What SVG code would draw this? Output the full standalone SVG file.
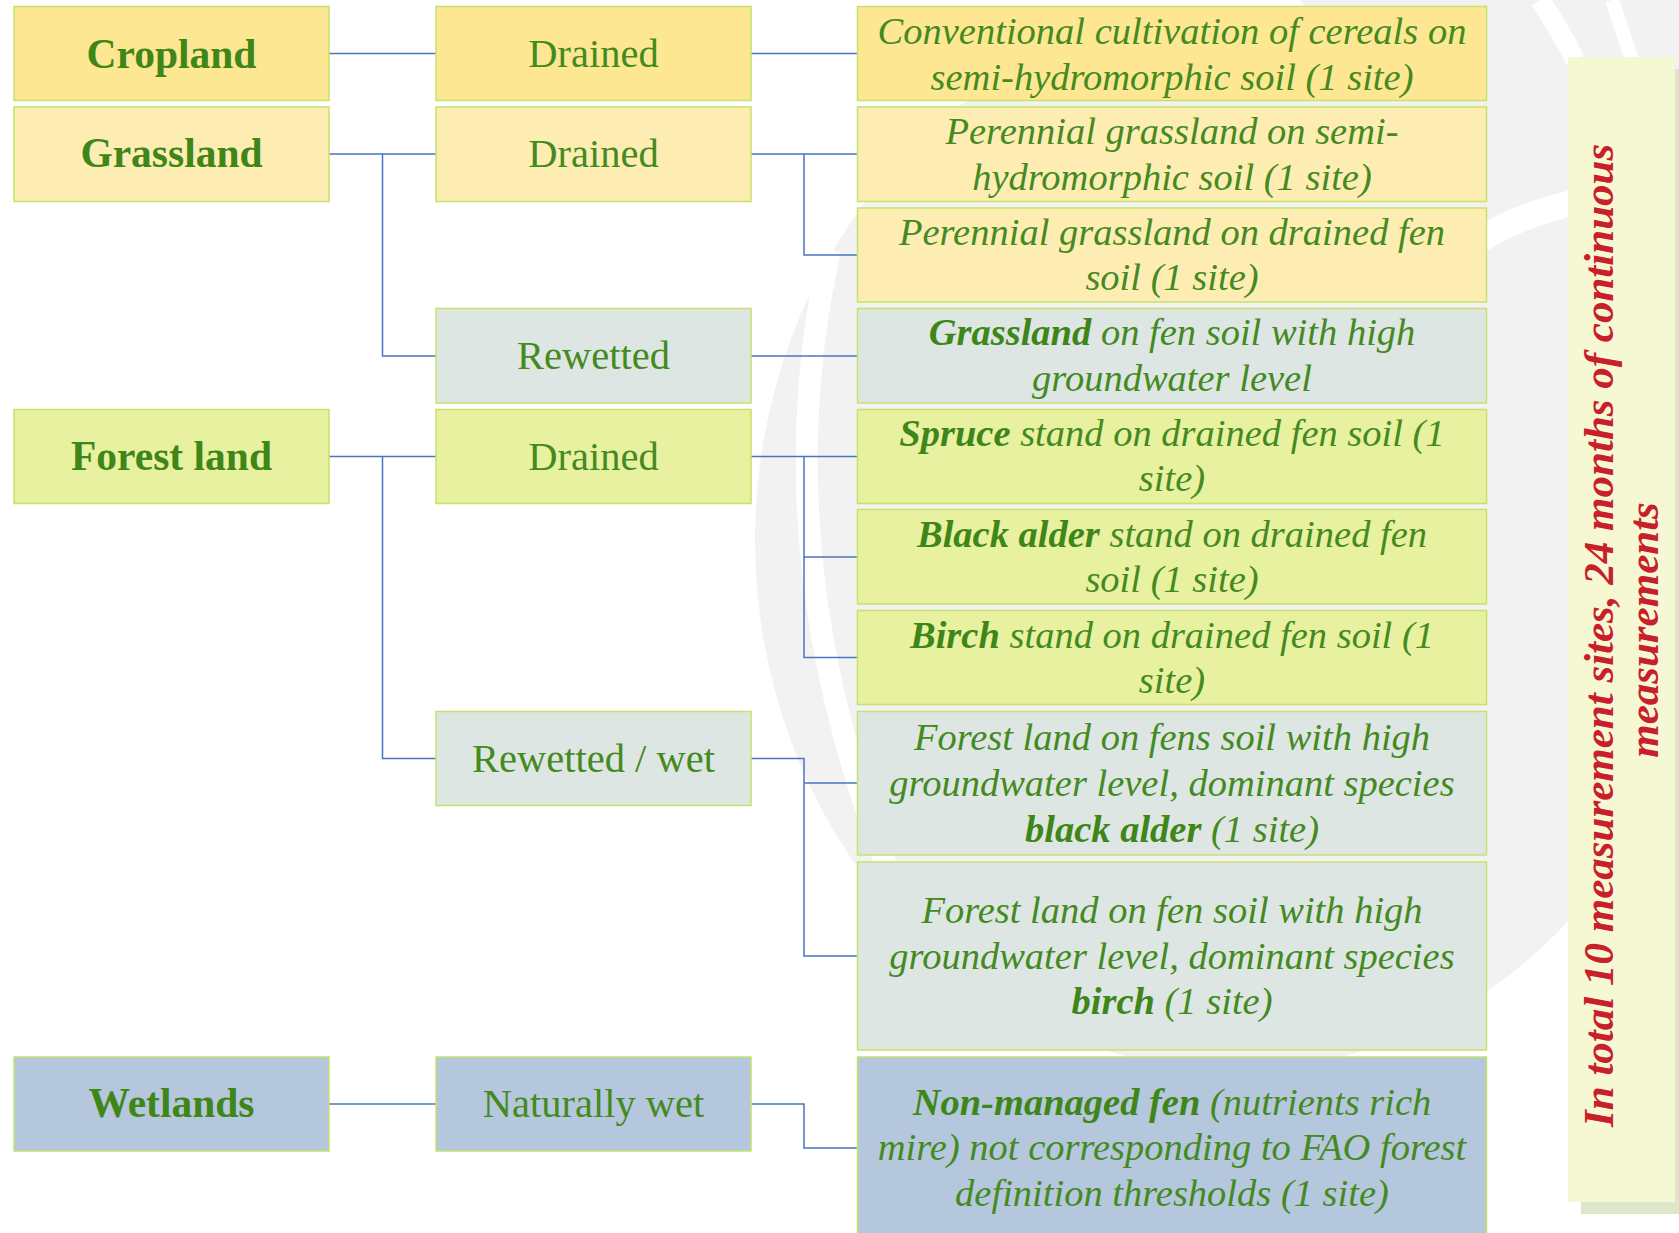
<svg xmlns="http://www.w3.org/2000/svg" width="1679" height="1233" viewBox="0 0 1679 1233">
  <style>
    .box { stroke: #c6e26b; stroke-width: 1.5; }
    .crop { fill: #fee793; }
    .grass { fill: #fdedb3; }
    .rewet { fill: #dee6e4; }
    .forest { fill: #e8f1a0; }
    .wet { fill: #b5c7dd; }
    .t { fill: #448a1f; text-anchor: middle; }
    .cat { font-family: "Liberation Serif", "DejaVu Serif", serif; font-weight: bold; font-size: 41.5px; fill: #3f8619; }
    .state { font-family: "Liberation Serif", "DejaVu Serif", serif; font-size: 40.5px; }
    .desc { font-family: "Liberation Serif", "DejaVu Serif", serif; font-style: italic; font-size: 38.5px; }
    .b { font-weight: bold; fill: #3f8619; }
    .conn { fill: none; stroke: #4a76bd; stroke-width: 1.5; }
    .note { font-family: "Liberation Serif", "DejaVu Serif", serif; font-style: italic; font-weight: bold; font-size: 43px; fill: #c8202a; text-anchor: middle; }
  </style>

  <rect width="1679" height="1233" fill="#ffffff"/>

  <!-- faint watermark logo in the background -->
  <g id="watermark">
    <ellipse cx="1235" cy="540" rx="480" ry="530" fill="#f2f2f2"/>
    <path d="M 1300 0 H 1679 V 300 L 1480 300 Z" fill="#f2f2f2"/>
    <path d="M 830 250 Q 760 560 900 900" fill="none" stroke="#ffffff" stroke-width="22"/>
    <path d="M 1480 240 Q 1540 200 1679 185" fill="none" stroke="#ffffff" stroke-width="26"/>
    <path d="M 1540 0 Q 1560 30 1575 60" fill="none" stroke="#ffffff" stroke-width="20"/>
    <path d="M 1612 0 Q 1622 30 1632 60" fill="none" stroke="#ffffff" stroke-width="14"/>
  </g>

  <!-- connectors -->
  <g id="connectors">
    <path class="conn" d="M 329 53.5 H 436"/>
    <path class="conn" d="M 329 154 H 436 M 382.5 154 V 356 H 436"/>
    <path class="conn" d="M 329 456.5 H 436 M 382.5 456.5 V 758.5 H 436"/>
    <path class="conn" d="M 329 1104 H 436"/>
    <path class="conn" d="M 751 53.5 H 857.5"/>
    <path class="conn" d="M 751 154 H 857.5 M 804 154 V 255 H 857.5"/>
    <path class="conn" d="M 751 356 H 857.5"/>
    <path class="conn" d="M 751 456.5 H 857.5 M 804 456.5 V 657.5 H 857.5 M 804 557 H 857.5"/>
    <path class="conn" d="M 751 758.5 H 804 V 956 H 857.5 M 804 783 H 857.5"/>
    <path class="conn" d="M 751 1104 H 804 V 1148 H 857.5"/>
  </g>

  <!-- land use categories -->
  <g id="cropland">
    <rect class="box crop" x="14" y="6.5" width="315" height="94"/>
    <text class="t cat" x="171.5" y="67.5">Cropland</text>
  </g>
  <g id="grassland">
    <rect class="box grass" x="14" y="107" width="315" height="94.5"/>
    <text class="t cat" x="171.5" y="167">Grassland</text>
  </g>
  <g id="forest-land">
    <rect class="box forest" x="14" y="409.5" width="315" height="94"/>
    <text class="t cat" x="171.5" y="470">Forest land</text>
  </g>
  <g id="wetlands">
    <rect class="box wet" x="14" y="1057" width="315" height="94"/>
    <text class="t cat" x="171.5" y="1117">Wetlands</text>
  </g>

  <!-- water regime -->
  <g id="cropland-drained">
    <rect class="box crop" x="436" y="6.5" width="315" height="94"/>
    <text class="t state" x="593.5" y="66.5">Drained</text>
  </g>
  <g id="grassland-drained">
    <rect class="box grass" x="436" y="107" width="315" height="94.5"/>
    <text class="t state" x="593.5" y="167">Drained</text>
  </g>
  <g id="grassland-rewetted">
    <rect class="box rewet" x="436" y="308.5" width="315" height="94.5"/>
    <text class="t state" x="593.5" y="368.5">Rewetted</text>
  </g>
  <g id="forest-drained">
    <rect class="box forest" x="436" y="409.5" width="315" height="94"/>
    <text class="t state" x="593.5" y="469.5">Drained</text>
  </g>
  <g id="forest-rewetted">
    <rect class="box rewet" x="436" y="711.5" width="315" height="94"/>
    <text class="t state" x="593.5" y="771.5">Rewetted / wet</text>
  </g>
  <g id="wetlands-natural">
    <rect class="box wet" x="436" y="1057" width="315" height="94"/>
    <text class="t state" x="593.5" y="1117">Naturally wet</text>
  </g>

  <!-- measurement sites -->
  <g id="site-cereals">
    <rect class="box crop" x="857.5" y="6.5" width="629" height="94"/>
    <text class="t desc" x="1172" y="43.5">Conventional cultivation of cereals on</text>
    <text class="t desc" x="1172" y="89.5">semi-hydromorphic soil (1 site)</text>
  </g>
  <g id="site-grass-semi">
    <rect class="box grass" x="857.5" y="107" width="629" height="94.5"/>
    <text class="t desc" x="1172" y="143.5">Perennial grassland on semi-</text>
    <text class="t desc" x="1172" y="189.5">hydromorphic soil (1 site)</text>
  </g>
  <g id="site-grass-fen">
    <rect class="box grass" x="857.5" y="208" width="629" height="94"/>
    <text class="t desc" x="1172" y="245">Perennial grassland on drained fen</text>
    <text class="t desc" x="1172" y="290">soil (1 site)</text>
  </g>
  <g id="site-grass-wet">
    <rect class="box rewet" x="857.5" y="308.5" width="629" height="94.5"/>
    <text class="t desc" x="1172" y="345"><tspan class="b">Grassland</tspan> on fen soil with high</text>
    <text class="t desc" x="1172" y="390.5">groundwater level</text>
  </g>
  <g id="site-spruce">
    <rect class="box forest" x="857.5" y="409.5" width="629" height="94"/>
    <text class="t desc" x="1172" y="445.5"><tspan class="b">Spruce</tspan> stand on drained fen soil (1</text>
    <text class="t desc" x="1172" y="491">site)</text>
  </g>
  <g id="site-alder-drained">
    <rect class="box forest" x="857.5" y="509.5" width="629" height="94.5"/>
    <text class="t desc" x="1172" y="546.5"><tspan class="b">Black alder</tspan> stand on drained fen</text>
    <text class="t desc" x="1172" y="592">soil (1 site)</text>
  </g>
  <g id="site-birch-drained">
    <rect class="box forest" x="857.5" y="610.5" width="629" height="94"/>
    <text class="t desc" x="1172" y="647.5"><tspan class="b">Birch</tspan> stand on drained fen soil (1</text>
    <text class="t desc" x="1172" y="693">site)</text>
  </g>
  <g id="site-alder-wet">
    <rect class="box rewet" x="857.5" y="711.5" width="629" height="143.5"/>
    <text class="t desc" x="1172" y="750">Forest land on fens soil with high</text>
    <text class="t desc" x="1172" y="795.5">groundwater level, dominant species</text>
    <text class="t desc" x="1172" y="841.5"><tspan class="b">black alder</tspan> (1 site)</text>
  </g>
  <g id="site-birch-wet">
    <rect class="box rewet" x="857.5" y="862" width="629" height="188"/>
    <text class="t desc" x="1172" y="922.5">Forest land on fen soil with high</text>
    <text class="t desc" x="1172" y="968.5">groundwater level, dominant species</text>
    <text class="t desc" x="1172" y="1014"><tspan class="b">birch</tspan> (1 site)</text>
  </g>
  <g id="site-fen">
    <rect class="box wet" x="857.5" y="1057" width="629" height="190"/>
    <text class="t desc" x="1172" y="1114.5"><tspan class="b">Non-managed fen</tspan> (nutrients rich</text>
    <text class="t desc" x="1172" y="1160">mire) not corresponding to FAO forest</text>
    <text class="t desc" x="1172" y="1205.5">definition thresholds (1 site)</text>
  </g>

  <!-- summary banner -->
  <g id="summary">
    <rect x="1581" y="69" width="110" height="1145" fill="#dde7c9"/>
    <rect x="1568" y="57" width="107" height="1145" fill="#f6f8d3"/>
    <text class="note" transform="translate(1613 630) rotate(-90)">
      <tspan x="0" y="0">In total 10 measurement sites, 24 months of continuous</tspan>
      <tspan x="0" y="45">measurements</tspan>
    </text>
  </g>
</svg>
